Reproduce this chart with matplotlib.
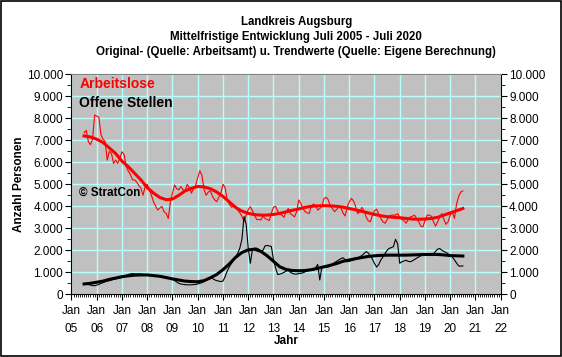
import numpy as np
import matplotlib
matplotlib.use("Agg")
import matplotlib.pyplot as plt
from matplotlib.ticker import MultipleLocator, FuncFormatter

plt.rcParams['font.family'] = ['Liberation Sans', 'DejaVu Sans']

# Monatswerte ab Juli 2005 (in Tausend)
arbeitslose = [
    7.35, 7.45, 6.95, 6.8, 7.05, 8.15,                      # 2005 Jul-Dez
    8.1, 8.05, 7.25, 7.05, 6.95, 6.1, 6.5, 6.4, 5.95, 6.1, 5.95, 6.2,   # 2006
    6.48, 6.35, 5.8, 5.6, 5.45, 5.2, 5.2, 5.1, 4.95, 4.82, 4.5, 4.9,    # 2007
    5.0, 4.75, 4.5, 4.2, 4.0, 3.83, 3.92, 4.0, 3.75, 3.68, 3.45, 4.2,   # 2008
    4.6, 4.97, 4.8, 4.75, 4.9, 4.75, 4.7, 5.0, 4.85, 4.6, 4.8, 4.95,    # 2009
    5.3, 5.62, 5.4, 4.75, 4.5, 4.65, 4.7, 4.45, 4.3, 4.21, 4.4, 4.6,    # 2010
    5.0, 4.85, 4.3, 4.1, 3.96, 4.0, 3.95, 3.83, 3.7, 3.55, 3.3, 3.6,    # 2011
    3.85, 3.98, 3.8, 3.6, 3.4, 3.4, 3.38, 3.55, 3.45, 3.4, 3.35, 3.7,   # 2012
    3.95, 4.0, 3.78, 3.65, 3.6, 3.5, 3.75, 3.9, 3.67, 3.6, 3.52, 3.75,  # 2013
    4.29, 4.13, 3.9, 3.76, 3.7, 3.68, 4.0, 4.1, 4.05, 3.83, 3.9, 4.0,   # 2014
    4.35, 4.41, 4.3, 4.0, 3.9, 3.76, 3.85, 3.98, 3.95, 3.7, 3.56, 3.95, # 2015
    4.2, 4.36, 4.25, 4.0, 3.67, 3.75, 3.95, 3.8, 3.52, 3.35, 3.3, 3.6,  # 2016
    3.8, 3.87, 3.65, 3.45, 3.3, 3.23, 3.4, 3.55, 3.6, 3.6, 3.6, 3.67,   # 2017
    3.5, 3.4, 3.35, 3.23, 3.4, 3.52, 3.55, 3.6, 3.45, 3.3, 3.1, 3.07,   # 2018
    3.35, 3.6, 3.6, 3.55, 3.3, 3.1, 3.3, 3.5, 3.67, 3.4, 3.18, 3.3,     # 2019
    3.6, 3.75, 3.45, 4.1, 4.45, 4.65, 4.7,                              # 2020 Jan-Jul
]

offene_stellen = [
    0.47, 0.46, 0.44, 0.42, 0.4, 0.39,
    0.42, 0.45, 0.5, 0.53, 0.57, 0.6, 0.62, 0.65, 0.68, 0.7, 0.72, 0.74,
    0.76, 0.8, 0.85, 0.9, 0.93, 0.94, 0.93, 0.92, 0.93, 0.92, 0.9, 0.9,
    0.88, 0.87, 0.86, 0.85, 0.84, 0.83, 0.83, 0.82, 0.8, 0.79, 0.76, 0.74,
    0.7, 0.63, 0.56, 0.5, 0.47, 0.45, 0.44, 0.43, 0.43, 0.43, 0.44, 0.45,
    0.47, 0.5, 0.53, 0.58, 0.64, 0.7, 0.75, 0.72, 0.66, 0.62, 0.6, 0.58,
    0.6, 0.8, 1.05, 1.25, 1.4, 1.55, 1.7, 1.86, 2.1, 2.5, 3.53, 3.2,
    2.09, 1.41, 2.05, 2.1, 2.1, 2.05, 1.95, 2.0, 2.2, 2.22, 2.2, 2.17,
    1.56, 1.2, 0.9, 0.92, 0.95, 1.0, 1.05, 1.1, 1.0, 0.95, 0.92, 0.92,
    0.94, 0.95, 0.98, 1.02, 1.06, 1.08, 1.1, 1.1, 1.2, 1.36, 0.65, 1.24,
    1.22, 1.24, 1.24, 1.3, 1.38, 1.44, 1.5, 1.56, 1.62, 1.66, 1.58, 1.48,
    1.5, 1.53, 1.56, 1.6, 1.65, 1.71, 1.76, 1.85, 1.94, 1.88, 1.75, 1.6,
    1.4, 1.24, 1.35, 1.56, 1.7, 1.85, 2.0, 2.09, 2.12, 2.17, 2.5, 2.3,
    1.41, 1.48, 1.51, 1.55, 1.5, 1.48, 1.52, 1.58, 1.64, 1.7, 1.75, 1.78,
    1.78, 1.8, 1.81, 1.81, 1.85, 1.95, 2.05, 2.08, 2.0, 1.95, 1.9, 1.84,
    1.78, 1.7, 1.56, 1.42, 1.29, 1.28, 1.29,
]

# Trendwerte, vierteljaehrlich ab Juli 2005
trend_arbeitslose = [
    7.2, 7.15, 7.05, 6.9, 6.65, 6.4, 6.05, 5.8, 5.5, 5.2, 4.85, 4.6,
    4.4, 4.3, 4.33, 4.5, 4.7, 4.82, 4.9, 4.88, 4.8, 4.65, 4.45, 4.2,
    3.95, 3.78, 3.68, 3.62, 3.6, 3.6, 3.63, 3.68, 3.75, 3.82, 3.88, 3.95,
    4.0, 4.02, 4.03, 4.02, 4.0, 3.96, 3.9, 3.84, 3.77, 3.7, 3.63, 3.57,
    3.53, 3.5, 3.48, 3.45, 3.42, 3.41, 3.42, 3.45, 3.5, 3.6, 3.7, 3.8, 3.9,
]
trend_offene = [
    0.47, 0.5, 0.55, 0.6, 0.68, 0.74, 0.8, 0.84, 0.87, 0.88, 0.88, 0.85,
    0.82, 0.76, 0.7, 0.65, 0.6, 0.58, 0.57, 0.62, 0.75, 0.9, 1.12, 1.38,
    1.68, 1.9, 2.02, 2.05, 1.95, 1.75, 1.5, 1.25, 1.13, 1.08, 1.07, 1.08,
    1.12, 1.18, 1.25, 1.32, 1.4, 1.5, 1.56, 1.62, 1.67, 1.72, 1.75, 1.77,
    1.78, 1.78, 1.78, 1.78, 1.79, 1.8, 1.81, 1.81, 1.81, 1.79, 1.76, 1.75, 1.74,
]

jahre = list(range(2005, 2023))
jahr_labels = ["Jan\n%02d" % (j % 100) for j in jahre]

x_monat = 2005.5 + np.arange(len(arbeitslose)) / 12
x_trend = 2005.5 + np.arange(len(trend_arbeitslose)) * 3 / 12

fig = plt.figure(figsize=(5.62, 3.57), dpi=100)
fig.patch.set_facecolor("white")
fig.patches.append(plt.Rectangle((0.001, 0.002), 0.997, 0.996, transform=fig.transFigure,
                                 fill=False, edgecolor="black", linewidth=1.2))

ax = fig.add_axes([0.1272, 0.1756, 0.7638, 0.6163])
ax.set_facecolor("#C0C0C0")

ax.plot(x_monat, np.array(arbeitslose) * 1000, color="red", lw=0.8)
ax.plot(x_trend, np.array(trend_arbeitslose) * 1000, color="red", lw=2.2)
ax.plot(x_monat, np.array(offene_stellen) * 1000, color="black", lw=0.8)
ax.plot(x_trend, np.array(trend_offene) * 1000, color="black", lw=2.2)

ax.set_xlim(2005, 2022)
ax.set_ylim(0, 10000)
ax.set_xticks(jahre)
ax.set_xticklabels(jahr_labels, fontsize=8.5, linespacing=1.6)
ax.xaxis.set_minor_locator(MultipleLocator(1 / 12))
ax.yaxis.set_major_locator(MultipleLocator(1000))
ax.yaxis.set_minor_locator(MultipleLocator(500))
ax.yaxis.set_major_formatter(FuncFormatter(lambda v, p: f"{int(v):,}".replace(",", ".")))

ax.grid(True, which="major", color="#B8FFFF", lw=1)
ax.set_axisbelow(True)
ax.tick_params(axis="y", which="both", direction="out", left=True, right=True,
               labelleft=True, labelright=True, labelsize=8.5, pad=2)
ax.tick_params(axis="y", which="major", length=4)
ax.tick_params(axis="y", which="minor", length=3)
ax.tick_params(axis="x", which="major", length=4, labelsize=8.5, pad=4)
ax.tick_params(axis="x", which="minor", length=2.5, width=0.6)

for s in ["left", "right", "bottom"]:
    ax.spines[s].set_color("black")
ax.spines["top"].set_color("#808080")

ax.set_xlabel("Jahr", fontsize=8.5, fontweight="bold", labelpad=0)
ax.set_ylabel("Anzahl Personen", fontsize=8.5, fontweight="bold", labelpad=1)

ax.text(0.018, 0.955, "Arbeitslose", transform=ax.transAxes, color="red",
        fontsize=10, fontweight="bold", va="center")
ax.text(0.018, 0.87, "Offene Stellen", transform=ax.transAxes, color="black",
        fontsize=10, fontweight="bold", va="center")
ax.text(0.018, 0.46, "\u00a9 StratCon", transform=ax.transAxes, color="black",
        fontsize=8.5, fontweight="bold", va="center")

fig.text(0.527, 0.938, "Landkreis Augsburg", ha="center", va="center", fontsize=8.3, fontweight="bold")
fig.text(0.527, 0.895, "Mittelfristige Entwicklung Juli 2005 - Juli 2020", ha="center", va="center",
         fontsize=8.3, fontweight="bold")
fig.text(0.527, 0.853, "Original- (Quelle: Arbeitsamt) u. Trendwerte (Quelle: Eigene Berechnung)",
         ha="center", va="center", fontsize=8.3, fontweight="bold")

fig.savefig("out.png", dpi=100)
